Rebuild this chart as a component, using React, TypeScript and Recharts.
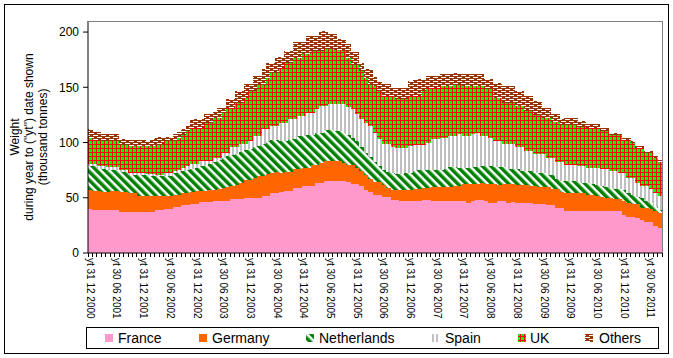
import React from 'react';
import { BarChart, Bar, XAxis, YAxis } from 'recharts';

// thousand tonnes, monthly year-to-date, Dec 2000 .. Aug 2011
const france = [
  40, 39, 38.5, 38.5, 38.5, 38.5, 38.5, 37.5, 37.5, 37.5,
  37.5, 37.5, 37.5, 37.5, 37.5, 38.5, 38.5, 39.5, 39.5, 41.5,
  42, 43, 43, 44.5, 44.5, 46, 46, 46, 47, 47,
  47, 47, 48.5, 48.5, 48.5, 49.5, 49.5, 49.5, 49.5, 52,
  52, 54.5, 54.5, 55, 56.5, 56.5, 59, 59, 61, 61,
  61, 63.6, 63.6, 65, 65, 65, 65, 65, 64, 62.7,
  62.7, 61, 57, 55, 52.7, 52.7, 51, 51, 48, 48,
  46.7, 46.7, 46.7, 47.3, 47.3, 48, 48, 47.5, 47.5, 47.5,
  46.7, 46.7, 47.5, 47.5, 47.5, 45.5, 46.7, 48, 48, 46.7,
  45.7, 45.7, 46.7, 46.7, 45.7, 46.3, 45.7, 45.7, 45.7, 45.7,
  44.5, 44.5, 44.5, 43, 43, 40.3, 40.3, 38.3, 38.3, 38.3,
  38.3, 38.3, 38.3, 38.3, 37.6, 37.6, 37.6, 37.6, 37.6, 37.6,
  34, 32.4, 32.4, 31.5, 30, 27.9, 27.9, 24.8, 23,
];
const germany = [
  16.7, 16.8, 17.3, 16.3, 16.3, 17.3, 17.3, 17.3, 17.3, 16.7,
  16.7, 13.7, 13.7, 13.7, 13.7, 12.7, 12.7, 12.3, 12.3, 11.2,
  10.7, 11.2, 11.5, 10.5, 11.3, 10, 10.5, 11, 10.3, 11,
  12, 13, 12.5, 13.5, 14.5, 16.5, 16.9, 18.5, 19.9, 18,
  19.5, 17.5, 18.5, 17, 16.8, 16.8, 16.8, 16.8, 16.3, 16.3,
  18.7, 16.1, 17.6, 18.3, 18.3, 18.3, 18.3, 16.8, 15.7, 17,
  14.6, 13.2, 13.6, 11.7, 11.8, 11.8, 10.5, 8.1, 8.7, 8.7,
  10, 10, 10, 10.3, 10.3, 11.1, 11.1, 12.5, 12.5, 12.2,
  13, 13, 13.1, 13.1, 14.6, 16.6, 15.4, 14.1, 15.6, 16,
  17, 17, 14.8, 16, 17, 16.4, 15.8, 15.8, 15.8, 14.9,
  16.1, 15.2, 15.2, 16.7, 14.6, 17.3, 14.9, 16.2, 16.2, 16.2,
  16.2, 16.2, 14.1, 14.1, 13.9, 13, 12.4, 12.4, 10.9, 10.9,
  13, 13.1, 11.6, 12.5, 11, 13.1, 11.5, 13.1, 13.4,
];
const netherlands = [
  21.8, 22.7, 20.6, 21.6, 20, 19, 19, 18.2, 18.2, 16.7,
  16.7, 19.7, 19.7, 19.7, 18.2, 18.2, 18.2, 18.2, 18.2, 19.7,
  19.7, 19.8, 20.5, 21, 21.2, 22.5, 23.5, 24, 24.7, 26,
  27, 27.5, 27.5, 28, 28, 27, 27.6, 28, 27.6, 29,
  29.5, 30, 29.7, 29, 27.7, 29.7, 27.2, 29.7, 28.2, 29.7,
  27.3, 29.3, 27.8, 28.2, 28.2, 27.3, 27.3, 26.7, 27.3, 24.3,
  23.7, 22.2, 19.7, 20.6, 18.2, 14, 13.5, 13.9, 15.7, 15.1,
  15.1, 15.3, 15.7, 16.4, 17.2, 15.9, 16.4, 15.5, 15.2, 15.1,
  16.3, 18.2, 17.3, 16.4, 14.9, 14.9, 15.8, 15.8, 15.5, 16.4,
  16.4, 15.2, 16.4, 15.2, 13.3, 13.3, 14.5, 12.4, 12.4, 13.3,
  11.8, 12.7, 12.7, 11.2, 13.3, 9.3, 9.6, 11, 11, 10.5,
  9.5, 9, 10.6, 10, 10.3, 10.4, 10, 8.8, 9.5, 9,
  9.7, 9, 8.7, 6.5, 8.7, 6, 6.1, 4.1, 2.6,
];
const spain = [
  2.5, 2.5, 2.7, 2.7, 3.1, 3.1, 3.1, 1.8, 1.8, 1.5,
  1.5, 1.5, 1.5, 0.6, 2.1, 1.5, 1.5, 2.4, 2.4, 1.5,
  3.1, 3, 3.8, 4.3, 3.3, 4.8, 3.3, 2.3, 4.4, 2.4,
  4.9, 3.4, 7, 5.5, 7.5, 5.5, 7.5, 10, 9, 13,
  11, 13, 12.3, 17, 17, 18, 18, 18.5, 18.5, 20,
  20, 21, 24, 21.5, 23, 23.9, 23.9, 26, 25.4, 26,
  24.5, 24.6, 27.7, 27.7, 26.3, 24.5, 23.5, 25.5, 23.1, 22.8,
  22.8, 22.6, 24.6, 23.9, 23.1, 22.9, 24.5, 27.5, 27.8, 29.7,
  28.5, 28.1, 28.1, 30.6, 29, 29, 29.7, 31.1, 26.9, 26.9,
  24.9, 23.6, 23.6, 20.6, 22.5, 22.5, 19.5, 21.6, 18.5, 18.5,
  17, 17, 17, 15.5, 15.5, 15.5, 17.6, 14.2, 14.2, 14.7,
  14.8, 15.3, 14.3, 14.9, 15.5, 14.8, 15.8, 15.4, 16.2, 15.2,
  16, 13.7, 15.5, 13.1, 10.9, 13.6, 12.1, 12.5, 12.5,
];
const uk = [
  23.2, 21.7, 22.1, 22.1, 23.3, 23.3, 23.3, 23.4, 23.4, 24.2,
  24.2, 24.2, 24.2, 25.1, 25.1, 27.3, 27.3, 28.8, 28.8, 27.3,
  28.7, 30, 31.2, 32.7, 32.7, 29.7, 34.3, 34.3, 35.6, 35.6,
  35.8, 40.3, 35.7, 40.3, 37.3, 41.8, 44.9, 40.4, 46.4, 40.4,
  46.5, 48, 48, 49.6, 54, 51, 55.7, 52.7, 55.7, 52.7,
  55.7, 52.7, 49.7, 52, 50.5, 49.5, 49.5, 48.2, 44.3, 40.6,
  45.1, 43.5, 40.5, 37.4, 42, 43.4, 43.3, 43.3, 46.3, 45.1,
  45.1, 45.1, 44.8, 43.9, 43.9, 48.5, 49.4, 46.4, 46.4, 46.5,
  46.5, 45, 46.4, 44.8, 45, 45, 43.4, 42, 45, 42,
  44, 38.8, 38.8, 37.3, 37.3, 37.3, 37.2, 37.2, 35.8, 35.8,
  35.8, 35.8, 32.6, 35.6, 32.6, 36.6, 33.6, 36.3, 36.3, 36.3,
  35.7, 35.7, 35.7, 35.7, 35.7, 34.2, 34.2, 32.8, 32.8, 34.3,
  29.7, 34.2, 31.2, 31.2, 34.2, 29.7, 32.7, 31.3, 31.2,
];
const others = [
  7.6, 6.7, 8.2, 6.7, 6.7, 6.7, 6.7, 5.1, 5.1, 5.5,
  5.5, 5.5, 5.5, 4.6, 6.7, 6.9, 6.9, 3.9, 3.9, 6.1,
  5.3, 5, 5.5, 7.9, 7.9, 7.9, 7.9, 7.9, 6, 9.5,
  4.8, 7.9, 7.9, 10.9, 10.9, 12.4, 6.3, 13.9, 7.9, 14,
  13.9, 9.4, 14, 9.4, 11, 11, 13.9, 13.9, 10.9, 17,
  14, 14, 18.5, 16.2, 13.2, 14.2, 9.6, 10.9, 12.4, 10.9,
  10.9, 7.9, 7.9, 14, 8.7, 9.4, 10.9, 10.9, 7.9, 10,
  10, 10, 14, 16.1, 16.1, 11.5, 10.9, 10.9, 10.9, 10.8,
  10.8, 10.8, 10.9, 10.1, 10.8, 10.8, 10.8, 10.8, 10.8, 9.3,
  9.3, 13.9, 13.9, 15.4, 15.4, 15.4, 14, 14, 13.9, 13.9,
  12.4, 12.4, 9.5, 9.5, 6.5, 6.5, 4.9, 6.4, 6.4, 6.4,
  4.9, 4.9, 3.4, 3.4, 3.4, 3.3, 3.3, 1.8, 1.8, 1.8,
  1.8, 1.8, 1.8, 1.9, 1.9, 1.7, 1.7, 1.7, 1.8,
];

const yTicks = [0, 50, 100, 150, 200];
const yTitle = ['Weight', 'during year to ("yt") date shown', '(thousand tonnes)'];

// month-end labels "yt dd mm yyyy", starting 31 12 2000
const months: string[] = [];
{
  const ends = [31, 28, 31, 30, 31, 30, 31, 31, 30, 31, 30, 31];
  let m = 11;
  let y = 2000;
  for (let i = 0; i < france.length; i++) {
    let d = ends[m];
    if (m === 1 && y % 4 === 0) d = 29;
    months.push(`yt ${d} ${String(m + 1).padStart(2, '0')} ${y}`);
    m++;
    if (m > 11) { m = 0; y++; }
  }
}

const data = months.map((month, i) => ({
  month,
  france: france[i],
  germany: germany[i],
  netherlands: netherlands[i],
  spain: spain[i],
  uk: uk[i],
  others: others[i],
}));

const FONT = '"Liberation Sans", Arial, sans-serif';
const PLOT_W = 574;
const BAND = PLOT_W / data.length;

function FlatBar(props: any) {
  const { x, y, width, height, fill } = props;
  if (!height || height <= 0) return null;
  return <rect x={x} y={y} width={width + 0.5} height={height} fill={fill} shapeRendering="crispEdges" />;
}

function MonthTick(props: any) {
  const { x, y, payload, index } = props;
  const i = payload?.index ?? index;
  const axisY = y - 4;
  const tx = x - BAND / 2;
  return (
    <g>
      <line x1={tx} x2={tx} y1={axisY} y2={axisY + 4} stroke="#000" shapeRendering="crispEdges" />
      {i === data.length - 1 && (
        <line x1={x + BAND / 2} x2={x + BAND / 2} y1={axisY} y2={axisY + 4} stroke="#000" shapeRendering="crispEdges" />
      )}
      {i % 6 === 0 && (
        <text
          transform={`translate(${x},${axisY + 5}) rotate(90)`}
          textAnchor="start"
          dy="0.35em"
          fontSize={10}
          fontFamily={FONT}
          fill="#000"
        >
          {payload.value}
        </text>
      )}
    </g>
  );
}

const legendItems = [
  { name: 'France', fill: '#FF99CC', sx: 105, tx: 118 },
  { name: 'Germany', fill: '#FF6600', sx: 199, tx: 212 },
  { name: 'Netherlands', fill: 'url(#nlPat)', sx: 306, tx: 319 },
  { name: 'Spain', fill: 'url(#esPat)', sx: 432, tx: 445 },
  { name: 'UK', fill: 'url(#ukPat)', sx: 518, tx: 530 },
  { name: 'Others', fill: 'url(#otPat)', sx: 585, tx: 599 },
];

export default function App() {
  return (
    <div style={{ position: 'relative', width: 673, height: 358, background: '#fff', fontFamily: FONT }}>
      <style>{'body{margin:0}'}</style>
      <div style={{ position: 'absolute', left: 4, top: 4, width: 665, height: 350, border: '1px solid #000', boxSizing: 'border-box' }} />
      <svg width={673} height={358} style={{ position: 'absolute', left: 0, top: 0 }}>
        <defs>
          <pattern id="nlPat" patternUnits="userSpaceOnUse" width={6} height={8} patternTransform="rotate(-45)">
            <rect width={6} height={8} fill="#fff" />
            <rect width={3.5} height={8} fill="#008000" />
          </pattern>
          <pattern id="esPat" patternUnits="userSpaceOnUse" width={4} height={4}>
            <rect width={4} height={4} fill="#fff" />
            <rect width={2} height={4} fill="#C0C0C0" />
          </pattern>
          <pattern id="ukPat" patternUnits="userSpaceOnUse" width={4} height={4}>
            <rect width={4} height={4} fill="#00FF00" />
            <rect width={1} height={4} fill="#FF0000" />
            <rect width={4} height={1} fill="#FF0000" />
          </pattern>
          <pattern id="otPat" patternUnits="userSpaceOnUse" width={8} height={4}>
            <rect width={8} height={4} fill="#993300" />
            <rect x={1} y={1} width={5} height={1} fill="#fff" />
            <rect x={5} y={3} width={3} height={1} fill="#fff" />
            <rect x={0} y={3} width={2} height={1} fill="#fff" />
          </pattern>
        </defs>
      </svg>
      <div style={{ position: 'absolute', left: 0, top: 0 }}>
        <BarChart
          width={673}
          height={358}
          data={data}
          margin={{ top: 21, right: 11, left: 0, bottom: 35 }}
          barCategoryGap={0}
          barGap={0}
        >
          <XAxis
            dataKey="month"
            interval={0}
            tickLine={false}
            tickSize={4}
            tickMargin={0}
            height={70}
            axisLine={{ stroke: '#000' }}
            tick={<MonthTick />}
          />
          <YAxis
            type="number"
            domain={[0, 210]}
            ticks={yTicks}
            width={88}
            tickSize={5}
            tickMargin={4}
            stroke="#000"
            tick={{ fill: '#000', fontSize: 12, fontFamily: FONT }}
          />
          <Bar dataKey="france" stackId="a" fill="#FF99CC" shape={<FlatBar />} isAnimationActive={false} />
          <Bar dataKey="germany" stackId="a" fill="#FF6600" shape={<FlatBar />} isAnimationActive={false} />
          <Bar dataKey="netherlands" stackId="a" fill="url(#nlPat)" shape={<FlatBar />} isAnimationActive={false} />
          <Bar dataKey="spain" stackId="a" fill="url(#esPat)" shape={<FlatBar />} isAnimationActive={false} />
          <Bar dataKey="uk" stackId="a" fill="url(#ukPat)" shape={<FlatBar />} isAnimationActive={false} />
          <Bar dataKey="others" stackId="a" fill="url(#otPat)" shape={<FlatBar />} isAnimationActive={false} />
        </BarChart>
      </div>
      {/* plot frame (top and right) */}
      <div
        style={{
          position: 'absolute', left: 88, top: 21, width: 575, height: 232,
          borderTop: '1px solid #808080', borderRight: '1px solid #808080', boxSizing: 'border-box', pointerEvents: 'none',
        }}
      />
      <svg width={673} height={358} style={{ position: 'absolute', left: 0, top: 0, pointerEvents: 'none' }}>
        {yTitle.map((t, i) => (
          <text
            key={t}
            transform={`translate(${19 + i * 14},137) rotate(-90)`}
            textAnchor="middle"
            fontSize={12}
            fontFamily={FONT}
            fill="#000"
          >
            {t}
          </text>
        ))}
        <rect x={86.5} y={327.5} width={572} height={21} fill="none" stroke="#000" />
        {legendItems.map((it) => (
          <g key={it.name}>
            <rect x={it.sx} y={334} width={8} height={8} fill={it.fill} />
            <text x={it.tx} y={343} fontSize={14} fontFamily={FONT} fill="#000">
              {it.name}
            </text>
          </g>
        ))}
      </svg>
    </div>
  );
}
